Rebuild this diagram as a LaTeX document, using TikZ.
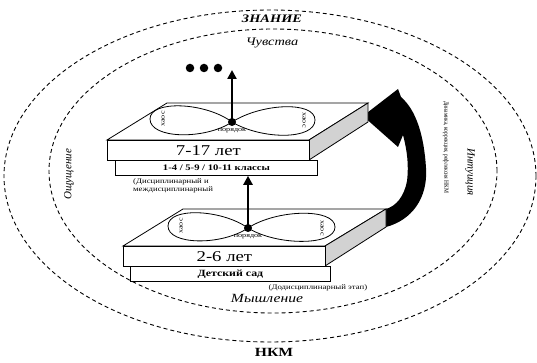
\documentclass[tikz,border=0pt]{standalone}
\usepackage{fontspec}
\setmainfont{Liberation Serif}[FakeStretch=1.25]
\newfontfamily\plainf{Liberation Serif}
\newfontfamily\narrowf{Liberation Serif}[FakeStretch=0.85]
\usetikzlibrary{arrows.meta}
\begin{document}
\begin{tikzpicture}[x=1pt,y=-1pt,
  ell/.style={dash pattern=on 4pt off 3pt, line width=0.9pt},
  face/.style={draw, line width=0.8pt, fill=white},
  side/.style={draw, line width=0.8pt, fill=gray!35},
  frontbox/.style={draw, line width=0.8pt, fill=white, inner sep=0pt, anchor=north west},
  loop8/.style={draw, line width=0.8pt},
  hub/.style={circle, fill=black, inner sep=0pt, minimum size=8pt},
  bigdot/.style={circle, fill=black, inner sep=0pt, minimum size=8.5pt},
  up/.style={line width=2.6pt, -{Triangle[length=9pt,width=9pt]}},
  tiny/.style={font=\fontsize{6.5}{7}\selectfont, inner sep=0pt},
  ring/.style={font=\fontsize{11.5}{12}\selectfont\itshape, inner sep=0pt}
]
\useasboundingbox (0,0) rectangle (537,363);

% dashed ellipses
\draw[ell] (270,176) ellipse [x radius=266pt, y radius=166pt];
\draw[ell] (273,171) ellipse [x radius=224pt, y radius=142pt];

% ring labels
\node[ring, font=\fontsize{11.5}{12}\selectfont\bfseries\itshape] (znanie) at (272,19) {ЗНАНИЕ};
\node[ring] (chuv) at (272,43) {Чувства};
\node[ring, font=\fontsize{12.5}{13}\selectfont\itshape] (mysh) at (267,298) {Мышление};
\node[ring, font=\fontsize{12.5}{13}\selectfont\bfseries] (nkm) at (274,352) {НКМ};
\node[ring, font=\fontsize{11}{12}\selectfont\plainf\itshape, rotate=90] (osh) at (69,174) {Ощущение};
\node[ring, font=\fontsize{11}{12}\selectfont\plainf\itshape, rotate=-90] (intu) at (470,172) {Интуиция};
\node[tiny, font=\fontsize{6.5}{7}\selectfont\narrowf, rotate=-90] (dyn) at (446,147) {Динамика, коррекция, рефлексия НКМ};
\node[tiny, font=\fontsize{7}{7.5}\selectfont] (dodisc) at (318,288) {(Додисциплинарный этап)};
\node[tiny, font=\fontsize{7}{7.5}\selectfont, align=left, anchor=west] (disc) at (133,186) {(Дисциплинарный и\\междисциплинарный};

% big curved arrow
\fill[black] (386,227) .. controls (412,220) and (428,198) .. (426,168)
  .. controls (424,135) and (416,110) .. (401,97)
  -- (398,89) -- (363,116) -- (398,147) -- (403,135)
  .. controls (407,150) and (409,165) .. (407,181)
  .. controls (404,197) and (396,206) .. (386,209) -- cycle;

% upper slab
\draw[face] (167,103) -- (368,103) -- (309,140) -- (107,140) -- cycle;
\draw[side] (309,140) -- (368,103) -- (368,122) -- (309,160) -- cycle;
\node[frontbox, minimum width=202pt, minimum height=20pt, font=\fontsize{15}{16}\selectfont] (age2) at (107,140) {7-17 лет};
\node[frontbox, minimum width=202pt, minimum height=15pt, font=\fontsize{8.5}{9}\selectfont\bfseries] (cls) at (115,160) {1-4 / 5-9 / 10-11 классы};
\draw[loop8] (232,122) .. controls (205,102) and (150,100) .. (150,119)
  .. controls (150,139) and (205,140) .. (232,122)
  .. controls (262,103) and (315,101) .. (315,120)
  .. controls (315,140) and (262,140) .. (232,122);
\node[tiny, rotate=90] (kh1) at (163,119) {хаос};
\node[tiny, rotate=-90] (kh2) at (304,120) {хаос};
\node[tiny] (por1) at (232,131) {порядок};
\node[hub] (c2) at (232,122) {};

% lower slab
\draw[face] (183,209) -- (386,209) -- (325,246) -- (123,246) -- cycle;
\draw[side] (325,246) -- (386,209) -- (386,227) -- (325,266) -- cycle;
\node[frontbox, minimum width=202pt, minimum height=20pt, font=\fontsize{15}{16}\selectfont] (age1) at (123,246) {2-6 лет};
\node[frontbox, minimum width=200pt, minimum height=15pt, font=\fontsize{9.5}{10}\selectfont\bfseries] (kg) at (130,266) {Детский сад};
\draw[loop8] (248,228) .. controls (221,209) and (168,207) .. (168,226)
  .. controls (168,245) and (221,246) .. (248,228)
  .. controls (277,209) and (335,208) .. (335,227)
  .. controls (335,246) and (277,246) .. (248,228);
\node[tiny, rotate=90] (kh3) at (181,226) {хаос};
\node[tiny, rotate=-90] (kh4) at (322,228) {хаос};
\node[tiny] (por2) at (248,237) {порядок};
\node[hub] (c1) at (248,228) {};

% vertical arrows
\coordinate (top2) at (232,70);
\draw[up] (c2.center) -- (top2);
\draw[up] (c1.center) -- (cls.south -| c1);

% ellipsis dots
\node[bigdot] (d1) at (190,68) {};
\node[bigdot] (d2) at (204,68) {};
\node[bigdot] (d3) at (218,68) {};
\end{tikzpicture}
\end{document}
